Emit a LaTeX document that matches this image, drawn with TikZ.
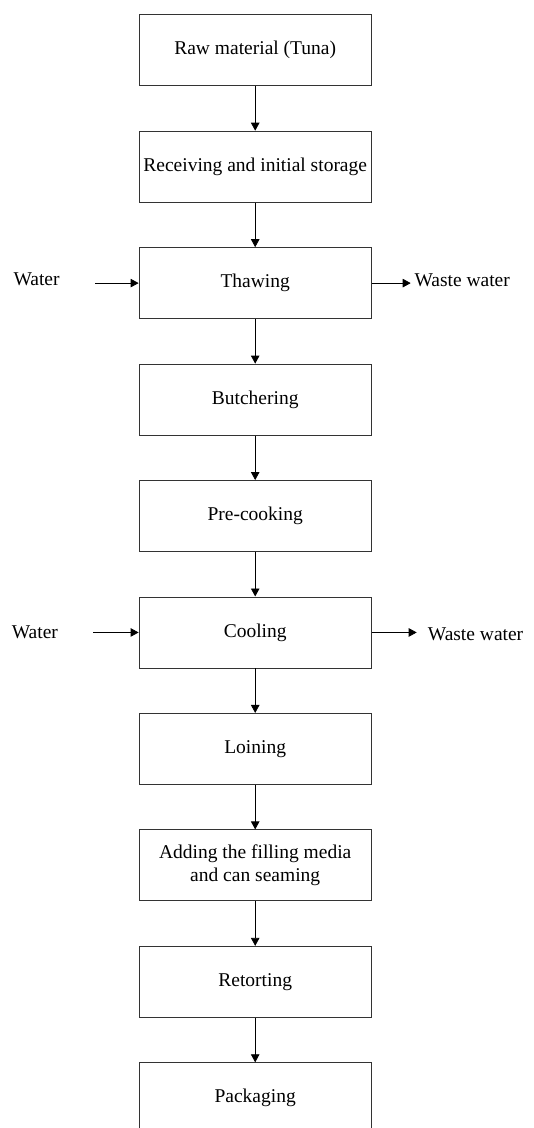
\documentclass[tikz,border=0pt]{standalone}
\usepackage{fontspec}
\setmainfont{Liberation Serif}
\usetikzlibrary{arrows.meta}
\begin{document}
\begin{tikzpicture}[x=1pt,y=-1pt,
  font=\fontsize{19.5}{22.5}\selectfont,
  stepbox/.style={draw=black!80,line width=0.9pt,minimum width=232.3pt,minimum height=71pt,inner sep=0pt,align=center},
  flow/.style={line width=0.8pt,-{Triangle[length=8pt,width=8.5pt]}},
  side/.style={inner sep=0pt,anchor=base west}]
\useasboundingbox (0,0) rectangle (534,1128);
\clip (0,0) rectangle (534,1128);
\node[stepbox] (b1) at (255.2,50.2) {Raw material (Tuna)};
\node[stepbox] (b2) at (255.2,166.65) {Receiving and initial storage};
\node[stepbox] (b3) at (255.2,283.1) {Thawing};
\node[stepbox] (b4) at (255.2,399.55) {Butchering};
\node[stepbox] (b5) at (255.2,516.0) {Pre-cooking};
\node[stepbox] (b6) at (255.2,632.45) {Cooling};
\node[stepbox] (b7) at (255.2,748.9) {Loining};
\node[stepbox] (b8) at (255.2,865.35) {Adding the filling media\\and can seaming};
\node[stepbox] (b9) at (255.2,981.8) {Retorting};
\node[stepbox] (b10) at (255.2,1098.25) {Packaging};
\foreach \a/\b in {b1/b2,b2/b3,b3/b4,b4/b5,b5/b6,b6/b7,b7/b8,b8/b9,b9/b10}
  \draw[flow] (\a.south) -- (\b.north);
% side streams
\node[side] (w1) at (13.3,285.5) {Water};
\node[side] (ww1) at (414.3,286) {Waste water};
\node[side] (w2) at (11.7,638) {Water};
\node[side] (ww2) at (427.7,640) {Waste water};
\coordinate (w1s) at (95,283.1);
\coordinate (ww1e) at (410.7,283.1);
\coordinate (w2s) at (93.3,632.45);
\coordinate (ww2e) at (416.7,632.45);
\draw[flow] (w1s) -- (b3.west);
\draw[flow] (b3.east) -- (ww1e);
\draw[flow] (w2s) -- (b6.west);
\draw[flow] (b6.east) -- (ww2e);
\end{tikzpicture}
\end{document}
